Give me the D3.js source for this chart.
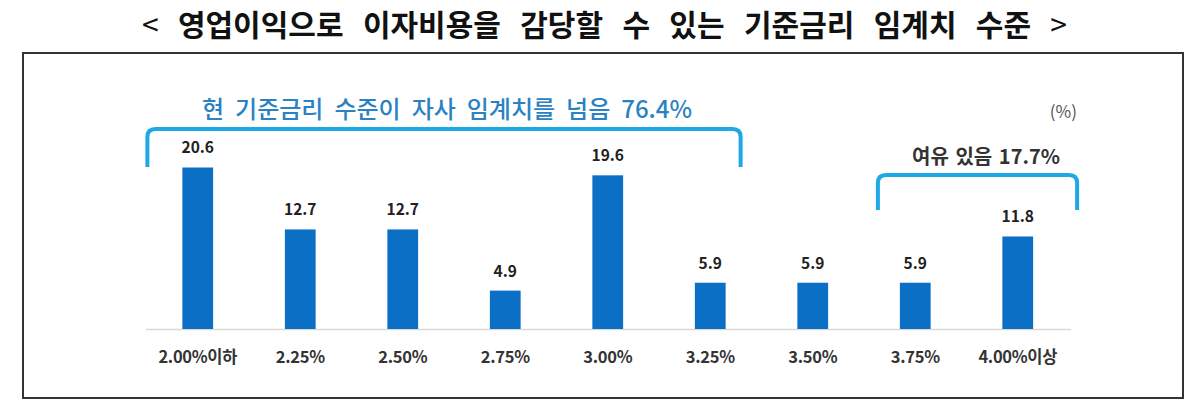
<!DOCTYPE html>
<html>
<head>
<meta charset="utf-8">
<script src="https://cdn.jsdelivr.net/npm/d3@7"></script>
<style>
  body { margin: 0; background: #fff; }
  text { font-family: "Noto Sans CJK KR", "Noto Sans", sans-serif; }
</style>
</head>
<body>
<script>
// 기준금리 임계치 분포 (%)
var rateLabels = ["2.00%이하", "2.25%", "2.50%", "2.75%", "3.00%", "3.25%", "3.50%", "3.75%", "4.00%이상"];
var shares = [20.6, 12.7, 12.7, 4.9, 19.6, 5.9, 5.9, 5.9, 11.8];
var titleText = "영업이익으로 이자비용을 감당할 수 있는 기준금리 임계치 수준";
var overText = "현 기준금리 수준이 자사 임계치를 넘음 76.4%";
var roomText = "여유 있음 17.7%";
var unitText = "(%)";

var width = 1200, height = 412;
var svg = d3.select("body").append("svg").attr("width", width).attr("height", height);

// x, y scales
var x = d3.scaleBand().domain(rateLabels).range([146.5, 1069]).paddingInner(0.7).paddingOuter(0.35);
var y = d3.scaleLinear().domain([0, 25]).range([329, 133]);

// spread the words of a line so it fills a given width
function fitWords(t, w) {
  var len = t.node().getComputedTextLength();
  var gaps = (t.text().match(/ /g) || []).length;
  if (gaps > 0) t.style("word-spacing", ((w - len) / gaps) + "px");
}

// title, with thin chevrons round it
var title = svg.append("text")
  .attr("x", 604.5).attr("y", 36)
  .attr("text-anchor", "middle")
  .attr("font-size", 30).attr("font-weight", 700)
  .attr("fill", "#111");
title.append("tspan").attr("font-weight", 400).text("< ");
title.append("tspan").text(titleText);
title.append("tspan").attr("font-weight", 400).text(" >");
fitWords(title, 925);

// frame
svg.append("rect")
  .attr("x", 23).attr("y", 53).attr("width", 1160).attr("height", 345)
  .attr("fill", "none").attr("stroke", "#333").attr("stroke-width", 2);

// baseline
svg.append("line")
  .attr("x1", 146).attr("x2", 1071).attr("y1", y(0) + 0.5).attr("y2", y(0) + 0.5)
  .attr("stroke", "#d9d9d9").attr("stroke-width", 1.5);

// bars
svg.selectAll(".bar").data(shares).enter().append("rect")
  .attr("class", "bar")
  .attr("x", function(d, i){ return x(rateLabels[i]); })
  .attr("y", function(d){ return y(d); })
  .attr("width", x.bandwidth())
  .attr("height", function(d){ return y(0) - y(d); })
  .attr("fill", "#0a6fc5");

// value labels
svg.selectAll(".val").data(shares).enter().append("text")
  .attr("class", "val")
  .attr("x", function(d, i){ return x(rateLabels[i]) + x.bandwidth() / 2; })
  .attr("y", function(d){ return y(d) - 14; })
  .attr("text-anchor", "middle")
  .attr("font-size", 15.5).attr("font-weight", 700)
  .attr("fill", "#222")
  .text(function(d){ return d.toFixed(1); });

// category labels
svg.selectAll(".cat").data(rateLabels).enter().append("text")
  .attr("class", "cat")
  .attr("x", function(d){ return x(d) + x.bandwidth() / 2; })
  .attr("y", 363)
  .attr("text-anchor", "middle")
  .attr("font-size", 16.5).attr("font-weight", 600)
  .attr("letter-spacing", -0.3)
  .attr("fill", "#333")
  .text(function(d){ return d; });

// brackets
function bracket(x1, x2, top, bottom) {
  var r = 8;
  return "M" + x1 + "," + bottom + "V" + (top + r) + "Q" + x1 + "," + top + " " + (x1 + r) + "," + top +
    "H" + (x2 - r) + "Q" + x2 + "," + top + " " + x2 + "," + (top + r) + "V" + bottom;
}
var leftB = [x(rateLabels[0]) - 35, x(rateLabels[5]) + x.bandwidth() + 15];
var rightB = [x(rateLabels[7]) - 22, x(rateLabels[8]) + x.bandwidth() + 44];

svg.append("path")
  .attr("d", bracket(leftB[0], leftB[1], 129, 167))
  .attr("fill", "none").attr("stroke", "#1ea8e6").attr("stroke-width", 4);
svg.append("path")
  .attr("d", bracket(rightB[0], rightB[1], 175, 210))
  .attr("fill", "none").attr("stroke", "#1ea8e6").attr("stroke-width", 4);

// bracket texts
var over = svg.append("text")
  .attr("x", 447).attr("y", 118)
  .attr("text-anchor", "middle")
  .attr("font-size", 24).attr("font-weight", 500)
  .attr("fill", "#2a82c3")
  .text(overText);
fitWords(over, 490);

var room = svg.append("text")
  .attr("x", 986).attr("y", 164)
  .attr("text-anchor", "middle")
  .attr("font-size", 20).attr("font-weight", 600)
  .attr("fill", "#333")
  .text(roomText);
fitWords(room, 148);

svg.append("text")
  .attr("x", 1077).attr("y", 118)
  .attr("text-anchor", "end")
  .attr("font-size", 17)
  .attr("fill", "#555")
  .text(unitText);
</script>
</body>
</html>
